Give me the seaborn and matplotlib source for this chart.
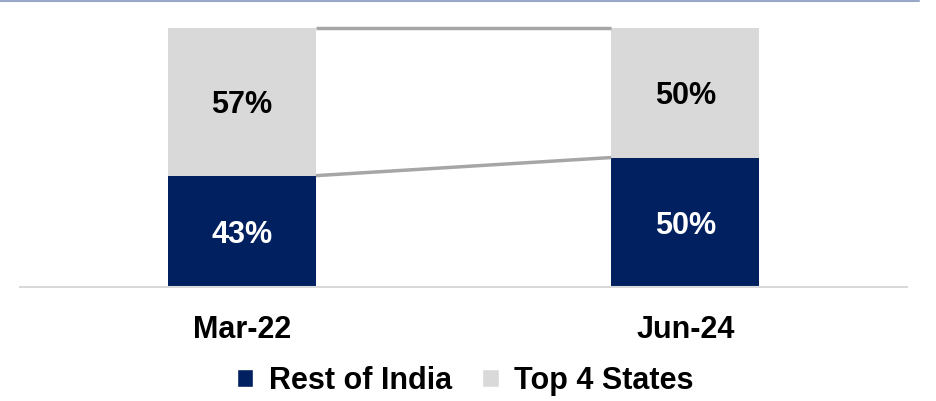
import numpy as np
import pandas as pd
import seaborn as sns
import matplotlib.pyplot as plt
from matplotlib.patches import Patch
from matplotlib.lines import Line2D

periods = ["Mar-22", "Jun-24"]
rest_of_india = [43, 50]
top_4_states = [57, 50]

navy = "#002060"
light = "#D9D9D9"
connector = "#A6A6A6"

sns.set_theme(style="white")
plt.rcParams['font.family'] = ['Liberation Sans', 'DejaVu Sans']
plt.rcParams['text.color'] = 'black'
plt.rcParams['xtick.color'] = 'black'

df = pd.DataFrame({"period": periods, "rest": rest_of_india, "top": top_4_states})
df["total"] = df["rest"] + df["top"]

fig = plt.figure(figsize=(9.36, 4.01), dpi=100)
ax = fig.add_axes([0.0214, 0.2843, 0.9476, 0.6457])

sns.barplot(data=df, x="period", y="total", color=light, width=0.334,
            saturation=1, ax=ax, linewidth=0)
sns.barplot(data=df, x="period", y="rest", color=navy, width=0.334,
            saturation=1, ax=ax, linewidth=0)

ax.set_xlim(-0.5, 1.5)
ax.set_ylim(0, 100)
ax.set_xlabel("")
ax.set_ylabel("")
ax.set_yticks([])
for s in ["top", "left", "right"]:
    ax.spines[s].set_visible(False)
ax.spines["bottom"].set_color("#D9D9D9")
ax.spines["bottom"].set_linewidth(1.5)
ax.tick_params(axis="x", length=0, pad=20, labelsize=22, labelcolor="black")
for lab in ax.get_xticklabels():
    lab.set_fontweight("bold")

# connector lines between the two bars
n = len(periods)
tot_bars = ax.patches[:n]
x0 = tot_bars[0].get_x() + tot_bars[0].get_width()
x1 = tot_bars[1].get_x()
ax.plot([x0, x1], [df["total"][0], df["total"][1]], color=connector, lw=2.5,
        solid_capstyle="butt", zorder=3, clip_on=False)
ax.plot([x0, x1], [df["rest"][0], df["rest"][1]], color=connector, lw=2.5,
        solid_capstyle="butt", zorder=3, clip_on=False)

# value labels
for i in range(n):
    r = df["rest"][i]
    t = df["top"][i]
    ax.text(i, r / 2 - 1.3, f"{r}%", ha="center", va="center", color="white",
            fontsize=22, fontweight="bold")
    ax.text(i, r + t / 2 - 1.3, f"{t}%", ha="center", va="center", color="black",
            fontsize=22, fontweight="bold")

handles = [Patch(facecolor=navy, label="Rest of India"),
           Patch(facecolor=light, label="Top 4 States")]
leg = fig.legend(handles=handles, loc="center", bbox_to_anchor=(0.497, 0.05),
                 ncol=2, frameon=False, handlelength=0.55, handleheight=0.55,
                 handletextpad=0.5, columnspacing=1.0,
                 prop={"size": 22, "weight": "bold"})
for txt in leg.get_texts():
    txt.set_color("black")

# thin rule at the very top of the figure
fig.add_artist(Line2D([0, 0.982], [0.997, 0.997], color="#9AA8C8", lw=1.5,
                      transform=fig.transFigure))

fig.savefig("out.png", dpi=100)
